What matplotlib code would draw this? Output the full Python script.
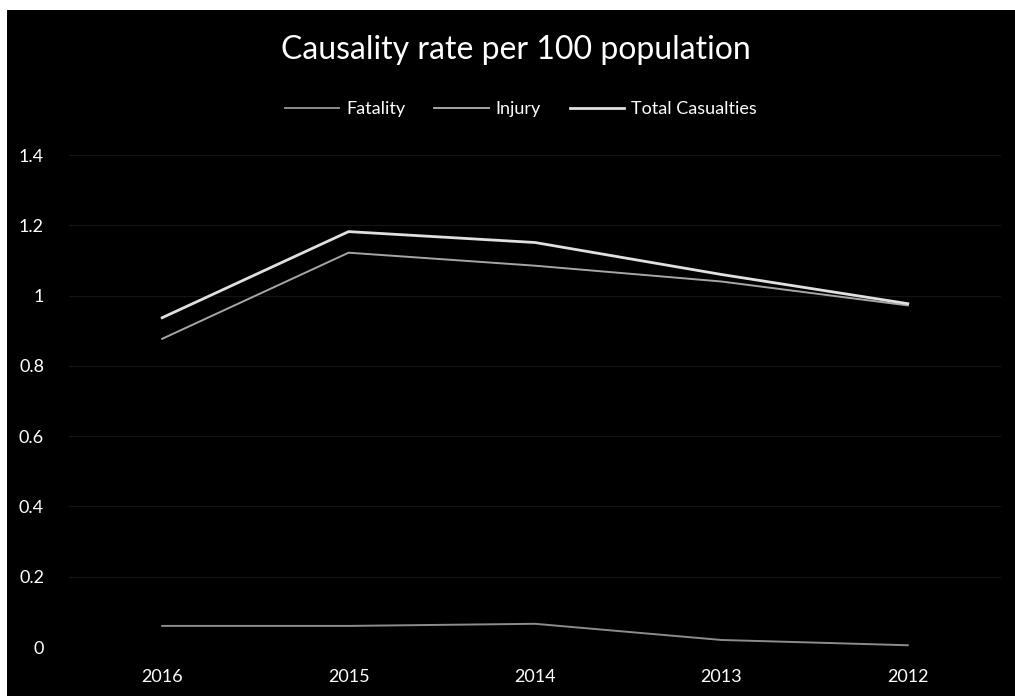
import matplotlib
matplotlib.use("Agg")
import matplotlib.pyplot as plt
from matplotlib.patches import Rectangle

plt.rcParams['font.family'] = ['Lato', 'DejaVu Sans']

years = ["2016", "2015", "2014", "2013", "2012"]
fatality = [0.060, 0.060, 0.066, 0.020, 0.005]
injury = [0.877, 1.122, 1.085, 1.040, 0.972]
total = [0.937, 1.182, 1.151, 1.060, 0.977]
y_ticks = [0, 0.2, 0.4, 0.6, 0.8, 1, 1.2, 1.4]
y_tick_labels = ["0", "0.2", "0.4", "0.6", "0.8", "1", "1.2", "1.4"]

W, H = 1015, 696
fig = plt.figure(figsize=(W / 100, H / 100), dpi=100, facecolor="white")

# dark chart panel
fig.patches.append(Rectangle((7 / W, 0), 1 - 7 / W, 1 - 10 / H,
                             transform=fig.transFigure, facecolor="black",
                             edgecolor="none", zorder=0))

ax = fig.add_axes([69 / W, (H - 647) / H, (1001 - 69) / W, (647 - 155) / H])
ax.set_zorder(2)
ax.patch.set_alpha(0)

x = list(range(len(years)))
ax.plot(x, fatality, color="#8c8c8c", lw=1.4, label="Fatality")
ax.plot(x, injury, color="#a6a6a6", lw=1.4, label="Injury")
ax.plot(x, total, color="#e0e0e0", lw=2.0, label="Total Casualties")

ax.set_xlim(-0.5, len(years) - 0.5)
ax.set_ylim(0, 1.4)
ax.set_yticks(y_ticks)
ax.set_yticklabels(y_tick_labels)
ax.set_xticks(x)
ax.set_xticklabels(years)
ax.yaxis.grid(True, color="#141414", lw=0.8)
ax.set_axisbelow(True)
for s in ax.spines.values():
    s.set_visible(False)
ax.tick_params(axis="both", length=0, colors="white", labelsize=13)
ax.tick_params(axis="y", pad=18)
ax.tick_params(axis="x", pad=16)

fig.text(516 / W, 1 - 50 / H, "Causality rate per 100 population", ha="center",
         va="center", color="white", fontsize=23, zorder=3)
leg = fig.legend(loc="center", bbox_to_anchor=(521 / W, 1 - 109 / H), ncol=3,
                 frameon=False, fontsize=13, labelcolor="white",
                 handlelength=3, columnspacing=1.6, handletextpad=0.4)
leg.set_zorder(3)

fig.savefig("out.png", dpi=100, facecolor="white")
